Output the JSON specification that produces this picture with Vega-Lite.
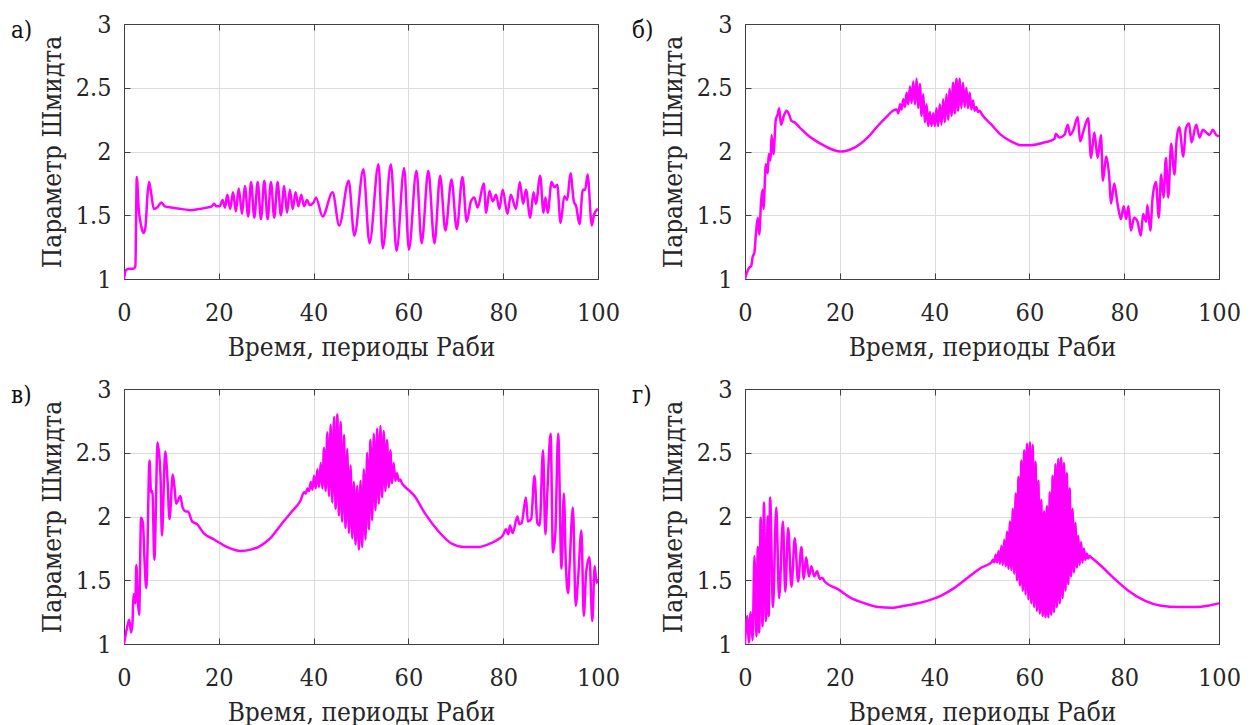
{
  "$schema": "https://vega.github.io/schema/vega-lite/v6.json",
  "background": "white",
  "padding": {"left": 10, "top": 11, "right": 5, "bottom": 5},
  "config": {
    "view": {"stroke": "#404040", "strokeWidth": 1},
    "font": "DejaVu Serif Condensed",
    "axis": {
      "labelFont": "DejaVu Serif Condensed",
      "titleFont": "DejaVu Serif Condensed",
      "labelFontSize": 25,
      "titleFontSize": 26,
      "titleFontWeight": "normal",
      "labelColor": "#262626",
      "titleColor": "#262626",
      "domainColor": "#404040",
      "tickColor": "#404040",
      "gridColor": "#dcdcdc",
      "gridWidth": 1,
      "tickSize": -6,
      "labelFlush": false,
      "labelOverlap": false
    },
    "title": {"font": "DejaVu Serif Condensed", "fontSize": 24, "fontWeight": "normal", "color": "#111111", "anchor": "start", "frame": "group", "offset": 0, "baseline": "alphabetic", "dx": -113, "dy": 35}
  },
  "datasets": {
    "a": [
      {"t":0,"v":1.00},{"t":0.4,"v":1.07},{"t":1.0,"v":1.08},{"t":2.0,"v":1.08},{"t":2.4,"v":1.10},{"t":2.7,"v":1.80},{"t":3.1,"v":1.55},{"t":3.6,"v":1.42},{"t":4.1,"v":1.36},{"t":4.5,"v":1.40},{"t":5.0,"v":1.68},{"t":5.3,"v":1.76},{"t":5.7,"v":1.68},{"t":6.3,"v":1.55},{"t":7.0,"v":1.56},{"t":7.9,"v":1.60},{"t":8.6,"v":1.57},{"t":10,"v":1.56},{"t":12,"v":1.55},{"t":14,"v":1.54},{"t":16,"v":1.55},{"t":17.5,"v":1.56},{"t":18.5,"v":1.57},{"t":19,"v":1.59},{"t":19.5,"v":1.57},{"t":20.2,"v":1.57},{"t":20.8,"v":1.62},{"t":21.3,"v":1.56},{"t":21.8,"v":1.66},{"t":22.4,"v":1.55},{"t":23.0,"v":1.68},{"t":23.6,"v":1.53},{"t":24.2,"v":1.71},{"t":24.9,"v":1.51},{"t":25.5,"v":1.73},{"t":26.2,"v":1.49},{"t":26.8,"v":1.76},{"t":27.5,"v":1.48},{"t":28.2,"v":1.76},{"t":28.9,"v":1.47},{"t":29.6,"v":1.77},{"t":30.3,"v":1.47},{"t":31.0,"v":1.76},{"t":31.7,"v":1.48},{"t":32.4,"v":1.76},{"t":33.1,"v":1.50},{"t":33.8,"v":1.73},{"t":34.4,"v":1.52},{"t":35.0,"v":1.70},{"t":35.6,"v":1.55},{"t":36.2,"v":1.68},{"t":36.8,"v":1.57},{"t":37.4,"v":1.66},{"t":38.0,"v":1.57},{"t":38.6,"v":1.62},{"t":39.2,"v":1.58},{"t":40.0,"v":1.60},{"t":40.5,"v":1.64},{"t":41.9,"v":1.49},{"t":44.0,"v":1.68},{"t":45.4,"v":1.42},{"t":47.4,"v":1.77},{"t":48.6,"v":1.34},{"t":50.5,"v":1.86},{"t":51.8,"v":1.28},{"t":53.7,"v":1.90},{"t":54.6,"v":1.24},{"t":56.3,"v":1.90},{"t":57.5,"v":1.22},{"t":59.1,"v":1.87},{"t":60.1,"v":1.23},{"t":61.7,"v":1.85},{"t":62.8,"v":1.28},{"t":64.2,"v":1.85},{"t":65.5,"v":1.28},{"t":66.7,"v":1.81},{"t":67.8,"v":1.38},{"t":69.1,"v":1.78},{"t":70.2,"v":1.39},{"t":71.4,"v":1.80},{"t":72.3,"v":1.45},{"t":73.2,"v":1.61},{"t":73.9,"v":1.64},{"t":74.6,"v":1.56},{"t":75.9,"v":1.75},{"t":76.4,"v":1.52},{"t":77.1,"v":1.69},{"t":77.8,"v":1.61},{"t":78.5,"v":1.66},{"t":79.2,"v":1.55},{"t":79.9,"v":1.70},{"t":80.9,"v":1.51},{"t":81.6,"v":1.66},{"t":82.7,"v":1.55},{"t":83.5,"v":1.76},{"t":84.2,"v":1.59},{"t":84.8,"v":1.70},{"t":85.7,"v":1.48},{"t":86.4,"v":1.68},{"t":86.9,"v":1.59},{"t":87.8,"v":1.81},{"t":88.5,"v":1.52},{"t":88.9,"v":1.64},{"t":89.4,"v":1.52},{"t":90.2,"v":1.76},{"t":90.8,"v":1.72},{"t":91.4,"v":1.74},{"t":92.1,"v":1.44},{"t":92.9,"v":1.65},{"t":93.5,"v":1.62},{"t":94.2,"v":1.83},{"t":94.9,"v":1.61},{"t":95.4,"v":1.57},{"t":96.1,"v":1.43},{"t":96.8,"v":1.70},{"t":97.3,"v":1.70},{"t":97.8,"v":1.82},{"t":98.7,"v":1.42},{"t":99.2,"v":1.51},{"t":100,"v":1.55}
    ],
    "b": [
      {"t":0,"v":1.00},{"t":0.5,"v":1.06},{"t":0.9,"v":1.09},{"t":1.3,"v":1.10},{"t":1.6,"v":1.17},{"t":2.0,"v":1.21},{"t":2.3,"v":1.35},{"t":2.7,"v":1.48},{"t":3.0,"v":1.35},{"t":3.4,"v":1.61},{"t":3.7,"v":1.70},{"t":3.9,"v":1.55},{"t":4.4,"v":1.90},{"t":4.8,"v":1.83},{"t":5.0,"v":1.98},{"t":5.4,"v":1.93},{"t":5.6,"v":2.13},{"t":6.0,"v":1.98},{"t":6.5,"v":2.25},{"t":6.9,"v":2.29},{"t":7.2,"v":2.34},{"t":7.6,"v":2.21},{"t":8.2,"v":2.28},{"t":8.8,"v":2.32},{"t":9.4,"v":2.28},{"t":9.8,"v":2.24},{"t":10.4,"v":2.23},{"t":11.5,"v":2.19},{"t":13.2,"v":2.13},{"t":16.0,"v":2.06},{"t":18.8,"v":2.01},{"t":20.3,"v":2.00},{"t":23.1,"v":2.03},{"t":25.9,"v":2.11},{"t":28.0,"v":2.20},{"t":30.1,"v":2.28},{"t":31.2,"v":2.32},
      {"t":32.0,"v":2.33},{"t":32.35,"v":2.30},{"t":32.7,"v":2.37},{"t":33.05,"v":2.33},{"t":33.4,"v":2.41},{"t":33.75,"v":2.35},{"t":34.1,"v":2.46},{"t":34.45,"v":2.37},{"t":34.8,"v":2.51},{"t":35.15,"v":2.38},{"t":35.5,"v":2.55},{"t":35.85,"v":2.37},{"t":36.2,"v":2.57},{"t":36.55,"v":2.34},{"t":36.9,"v":2.53},{"t":37.25,"v":2.28},{"t":37.6,"v":2.45},{"t":37.95,"v":2.23},{"t":38.3,"v":2.37},{"t":38.65,"v":2.20},{"t":39.0,"v":2.31},{"t":39.35,"v":2.20},{"t":39.7,"v":2.30},{"t":40.05,"v":2.20},{"t":40.4,"v":2.34},{"t":40.75,"v":2.20},{"t":41.1,"v":2.37},{"t":41.45,"v":2.21},{"t":41.8,"v":2.41},{"t":42.15,"v":2.23},{"t":42.5,"v":2.45},{"t":42.85,"v":2.25},{"t":43.2,"v":2.49},{"t":43.55,"v":2.28},{"t":43.9,"v":2.54},{"t":44.25,"v":2.30},{"t":44.6,"v":2.57},{"t":44.95,"v":2.32},{"t":45.3,"v":2.57},{"t":45.65,"v":2.34},{"t":46.0,"v":2.54},{"t":46.35,"v":2.35},{"t":46.7,"v":2.50},{"t":47.05,"v":2.34},{"t":47.4,"v":2.46},{"t":47.75,"v":2.33},{"t":48.1,"v":2.40},{"t":48.45,"v":2.32},{"t":48.8,"v":2.35},{"t":49.15,"v":2.31},{"t":49.5,"v":2.32},{"t":50.0,"v":2.29},
      {"t":52.0,"v":2.21},{"t":54.0,"v":2.13},{"t":56.1,"v":2.08},{"t":58.2,"v":2.05},{"t":60.3,"v":2.05},{"t":63.1,"v":2.07},{"t":65.3,"v":2.10},{"t":65.6,"v":2.14},{"t":66.3,"v":2.11},{"t":67.4,"v":2.13},{"t":68.1,"v":2.21},{"t":68.6,"v":2.13},{"t":69.3,"v":2.17},{"t":70.2,"v":2.27},{"t":70.7,"v":2.08},{"t":71.4,"v":2.16},{"t":72.4,"v":2.26},{"t":73.0,"v":1.95},{"t":73.7,"v":2.15},{"t":74.4,"v":1.95},{"t":75.1,"v":2.13},{"t":75.5,"v":1.77},{"t":76.2,"v":1.96},{"t":76.9,"v":1.77},{"t":77.2,"v":1.59},{"t":77.9,"v":1.75},{"t":78.6,"v":1.59},{"t":79.3,"v":1.47},{"t":79.9,"v":1.57},{"t":80.4,"v":1.47},{"t":80.9,"v":1.57},{"t":81.4,"v":1.38},{"t":82.1,"v":1.48},{"t":82.8,"v":1.45},{"t":83.5,"v":1.34},{"t":84.0,"v":1.51},{"t":84.6,"v":1.45},{"t":84.9,"v":1.58},{"t":85.5,"v":1.38},{"t":86.0,"v":1.64},{"t":86.7,"v":1.76},{"t":87.3,"v":1.48},{"t":87.8,"v":1.82},{"t":88.3,"v":1.64},{"t":88.8,"v":1.95},{"t":89.3,"v":1.64},{"t":89.9,"v":2.06},{"t":90.6,"v":1.82},{"t":91.1,"v":2.11},{"t":91.6,"v":2.19},{"t":92.5,"v":1.96},{"t":93.0,"v":2.18},{"t":93.7,"v":2.22},{"t":94.2,"v":2.07},{"t":95.2,"v":2.21},{"t":95.9,"v":2.11},{"t":96.6,"v":2.17},{"t":97.3,"v":2.15},{"t":98.0,"v":2.13},{"t":98.7,"v":2.17},{"t":99.4,"v":2.13},{"t":100,"v":2.12}
    ],
    "c": [
      {"t":0,"v":1.00},{"t":0.6,"v":1.12},{"t":1.1,"v":1.19},{"t":1.5,"v":1.09},{"t":1.8,"v":1.17},{"t":2.0,"v":1.39},{"t":2.4,"v":1.32},{"t":2.6,"v":1.62},{"t":2.9,"v":1.35},{"t":3.2,"v":1.23},{"t":3.6,"v":1.99},{"t":4.0,"v":1.95},{"t":4.3,"v":1.68},{"t":4.7,"v":1.44},{"t":5.4,"v":2.44},{"t":5.7,"v":2.19},{"t":6.0,"v":2.20},{"t":6.4,"v":1.66},{"t":7.1,"v":2.58},{"t":7.7,"v":2.32},{"t":8.0,"v":1.85},{"t":8.7,"v":2.51},{"t":9.2,"v":2.27},{"t":9.6,"v":1.98},{"t":10.3,"v":2.33},{"t":10.7,"v":2.21},{"t":11.0,"v":2.10},{"t":11.9,"v":2.16},{"t":12.3,"v":2.08},{"t":13.0,"v":2.04},{"t":13.5,"v":2.04},{"t":14.4,"v":1.96},{"t":15.4,"v":1.94},{"t":16.8,"v":1.87},{"t":19.0,"v":1.82},{"t":21.8,"v":1.76},{"t":24.6,"v":1.73},{"t":26.7,"v":1.74},{"t":28.8,"v":1.77},{"t":30.9,"v":1.83},{"t":33.0,"v":1.93},{"t":35.2,"v":2.03},{"t":37.3,"v":2.13},
      {"t":38.0,"v":2.19},{"t":38.35,"v":2.18},{"t":38.7,"v":2.22},{"t":39.05,"v":2.20},{"t":39.4,"v":2.27},{"t":39.75,"v":2.21},{"t":40.1,"v":2.32},{"t":40.45,"v":2.22},{"t":40.8,"v":2.37},{"t":41.15,"v":2.23},{"t":41.5,"v":2.42},{"t":41.85,"v":2.22},{"t":42.2,"v":2.54},{"t":42.55,"v":2.20},{"t":42.9,"v":2.66},{"t":43.25,"v":2.16},{"t":43.6,"v":2.72},{"t":43.95,"v":2.11},{"t":44.3,"v":2.78},{"t":44.65,"v":2.06},{"t":45.0,"v":2.80},{"t":45.35,"v":2.01},{"t":45.7,"v":2.74},{"t":46.05,"v":1.96},{"t":46.4,"v":2.64},{"t":46.75,"v":1.91},{"t":47.1,"v":2.53},{"t":47.45,"v":1.87},{"t":47.8,"v":2.40},{"t":48.15,"v":1.83},{"t":48.5,"v":2.27},{"t":48.85,"v":1.78},{"t":49.2,"v":2.24},{"t":49.55,"v":1.74},{"t":49.9,"v":2.28},{"t":50.25,"v":1.76},{"t":50.6,"v":2.37},{"t":50.95,"v":1.82},{"t":51.3,"v":2.50},{"t":51.65,"v":1.90},{"t":52.0,"v":2.60},{"t":52.35,"v":1.97},{"t":52.7,"v":2.65},{"t":53.05,"v":2.05},{"t":53.4,"v":2.69},{"t":53.75,"v":2.10},{"t":54.1,"v":2.71},{"t":54.45,"v":2.15},{"t":54.8,"v":2.67},{"t":55.15,"v":2.20},{"t":55.5,"v":2.60},{"t":55.85,"v":2.23},{"t":56.2,"v":2.52},{"t":56.55,"v":2.26},{"t":56.9,"v":2.42},{"t":57.25,"v":2.28},{"t":57.6,"v":2.34},{"t":57.95,"v":2.28},{"t":58.3,"v":2.29},{"t":58.65,"v":2.26},{"t":59.1,"v":2.24},
      {"t":61.3,"v":2.16},{"t":63.4,"v":2.03},{"t":66.2,"v":1.89},{"t":69.0,"v":1.79},{"t":71.8,"v":1.76},{"t":74.6,"v":1.76},{"t":76.7,"v":1.78},{"t":78.9,"v":1.82},{"t":79.9,"v":1.85},{"t":80.6,"v":1.90},{"t":81.1,"v":1.86},{"t":81.4,"v":1.93},{"t":82.0,"v":1.87},{"t":83.0,"v":2.00},{"t":83.4,"v":1.94},{"t":83.9,"v":1.95},{"t":84.8,"v":2.15},{"t":85.2,"v":1.96},{"t":85.9,"v":1.98},{"t":86.6,"v":2.32},{"t":87.2,"v":1.95},{"t":87.7,"v":1.93},{"t":88.4,"v":2.52},{"t":88.9,"v":1.86},{"t":89.3,"v":2.18},{"t":90.0,"v":2.65},{"t":90.5,"v":1.72},{"t":91.0,"v":1.87},{"t":91.6,"v":2.65},{"t":92.3,"v":1.59},{"t":92.8,"v":2.18},{"t":93.2,"v":1.64},{"t":93.7,"v":1.40},{"t":94.0,"v":1.61},{"t":94.7,"v":2.07},{"t":95.3,"v":1.30},{"t":95.8,"v":1.51},{"t":96.5,"v":1.89},{"t":97.0,"v":1.22},{"t":97.5,"v":1.56},{"t":98.2,"v":1.68},{"t":98.8,"v":1.18},{"t":99.3,"v":1.61},{"t":99.7,"v":1.48},{"t":100,"v":1.51}
    ],
    "d": [
      {"t":0,"v":1.00},{"t":0.5,"v":1.22},{"t":0.8,"v":1.01},{"t":1.2,"v":1.25},{"t":1.6,"v":1.03},{"t":2.0,"v":1.69},{"t":2.4,"v":1.06},{"t":2.7,"v":1.76},{"t":3.0,"v":1.09},{"t":3.3,"v":1.99},{"t":3.7,"v":1.14},{"t":4.0,"v":2.11},{"t":4.4,"v":1.18},{"t":4.8,"v":2.00},{"t":5.0,"v":1.22},{"t":5.3,"v":2.15},{"t":5.9,"v":1.29},{"t":6.6,"v":2.07},{"t":7.2,"v":1.36},{"t":8.0,"v":1.96},{"t":8.5,"v":1.41},{"t":9.1,"v":1.91},{"t":9.8,"v":1.45},{"t":10.5,"v":1.83},{"t":11.2,"v":1.49},{"t":11.9,"v":1.76},{"t":12.4,"v":1.51},{"t":12.9,"v":1.68},{"t":13.5,"v":1.53},{"t":14.0,"v":1.61},{"t":14.6,"v":1.53},{"t":15.2,"v":1.57},{"t":15.8,"v":1.51},{"t":16.3,"v":1.52},{"t":16.8,"v":1.49},
      {"t":19.6,"v":1.43},{"t":22.4,"v":1.36},{"t":25.2,"v":1.32},{"t":28.1,"v":1.29},{"t":30.9,"v":1.285},{"t":33.7,"v":1.30},{"t":36.5,"v":1.32},{"t":38.6,"v":1.34},{"t":41.4,"v":1.38},{"t":44.2,"v":1.44},{"t":47.0,"v":1.52},{"t":49.9,"v":1.60},{"t":52.0,"v":1.64},
      {"t":52.3,"v":1.66},{"t":52.6,"v":1.64},{"t":52.9,"v":1.70},{"t":53.2,"v":1.64},{"t":53.5,"v":1.73},{"t":53.8,"v":1.63},{"t":54.1,"v":1.77},{"t":54.4,"v":1.62},{"t":54.7,"v":1.82},{"t":55.0,"v":1.61},{"t":55.3,"v":1.88},{"t":55.6,"v":1.59},{"t":55.9,"v":1.96},{"t":56.2,"v":1.58},{"t":56.5,"v":2.06},{"t":56.8,"v":1.55},{"t":57.1,"v":2.18},{"t":57.4,"v":1.50},{"t":57.7,"v":2.31},{"t":58.0,"v":1.46},{"t":58.3,"v":2.44},{"t":58.6,"v":1.42},{"t":58.9,"v":2.52},{"t":59.2,"v":1.39},{"t":59.5,"v":2.57},{"t":59.8,"v":1.35},{"t":60.1,"v":2.58},{"t":60.4,"v":1.32},{"t":60.7,"v":2.56},{"t":61.0,"v":1.29},{"t":61.3,"v":2.43},{"t":61.6,"v":1.26},{"t":61.9,"v":2.28},{"t":62.2,"v":1.24},{"t":62.5,"v":2.13},{"t":62.8,"v":1.22},{"t":63.1,"v":2.04},{"t":63.4,"v":1.21},{"t":63.7,"v":2.08},{"t":64.0,"v":1.21},{"t":64.3,"v":2.19},{"t":64.6,"v":1.23},{"t":64.9,"v":2.32},{"t":65.2,"v":1.25},{"t":65.5,"v":2.41},{"t":65.8,"v":1.29},{"t":66.1,"v":2.45},{"t":66.4,"v":1.32},{"t":66.7,"v":2.46},{"t":67.0,"v":1.36},{"t":67.3,"v":2.42},{"t":67.6,"v":1.42},{"t":67.9,"v":2.34},{"t":68.2,"v":1.47},{"t":68.5,"v":2.22},{"t":68.8,"v":1.53},{"t":69.1,"v":2.06},{"t":69.4,"v":1.56},{"t":69.7,"v":1.95},{"t":70.0,"v":1.60},{"t":70.3,"v":1.85},{"t":70.6,"v":1.62},{"t":70.9,"v":1.80},{"t":71.2,"v":1.64},{"t":71.5,"v":1.75},{"t":71.8,"v":1.66},{"t":72.1,"v":1.71},{"t":72.4,"v":1.67},{"t":72.7,"v":1.69},{"t":73.0,"v":1.68},
      {"t":75.2,"v":1.61},{"t":78.0,"v":1.51},{"t":80.8,"v":1.42},{"t":84.3,"v":1.34},{"t":87.8,"v":1.30},{"t":91.4,"v":1.29},{"t":94.9,"v":1.29},{"t":97.7,"v":1.30},{"t":100,"v":1.32}
    ]
  },
  "concat": [
    {
      "data": {"name": "a"},
      "title": {"text": "а)"},
      "width": 474, "height": 255,
      "layer": [
        {"mark": {"type": "line", "color": "#ff00ff", "strokeWidth": 2.5, "clip": true, "interpolate": "monotone"},
         "encoding": {
           "x": {"field": "t", "type": "quantitative", "scale": {"domain": [0, 100], "nice": false}, "axis": {"orient": "bottom", "values": [0,20,40,60,80,100], "title": "Время, периоды Раби", "labelPadding": 27, "titlePadding": 9}},
           "y": {"field": "v", "type": "quantitative", "scale": {"domain": [1, 3], "nice": false, "zero": false}, "axis": {"orient": "left", "values": [1,1.5,2,2.5,3], "format": "~g", "title": "Параметр Шмидта", "labelPadding": 19, "titlePadding": 10}}
         }},
        {"mark": {"type": "line", "opacity": 0},
         "encoding": {
           "x": {"field": "t", "type": "quantitative", "axis": {"orient": "top", "values": [0,20,40,60,80,100], "labels": false, "grid": false, "title": null}},
           "y": {"field": "v", "type": "quantitative", "axis": {"orient": "right", "values": [1,1.5,2,2.5,3], "labels": false, "grid": false, "title": null}}
         }}
      ],
      "resolve": {"axis": {"x": "independent", "y": "independent"}}
    },
    {
      "data": {"name": "b"},
      "title": {"text": "б)"},
      "width": 474, "height": 255,
      "layer": [
        {"mark": {"type": "line", "color": "#ff00ff", "strokeWidth": 2.5, "clip": true, "interpolate": "monotone"},
         "encoding": {
           "x": {"field": "t", "type": "quantitative", "scale": {"domain": [0, 100], "nice": false}, "axis": {"orient": "bottom", "values": [0,20,40,60,80,100], "title": "Время, периоды Раби", "labelPadding": 27, "titlePadding": 9}},
           "y": {"field": "v", "type": "quantitative", "scale": {"domain": [1, 3], "nice": false, "zero": false}, "axis": {"orient": "left", "values": [1,1.5,2,2.5,3], "format": "~g", "title": "Параметр Шмидта", "labelPadding": 19, "titlePadding": 10}}
         }},
        {"mark": {"type": "line", "opacity": 0},
         "encoding": {
           "x": {"field": "t", "type": "quantitative", "axis": {"orient": "top", "values": [0,20,40,60,80,100], "labels": false, "grid": false, "title": null}},
           "y": {"field": "v", "type": "quantitative", "axis": {"orient": "right", "values": [1,1.5,2,2.5,3], "labels": false, "grid": false, "title": null}}
         }}
      ],
      "resolve": {"axis": {"x": "independent", "y": "independent"}}
    },
    {
      "data": {"name": "c"},
      "title": {"text": "в)"},
      "width": 474, "height": 255,
      "layer": [
        {"mark": {"type": "line", "color": "#ff00ff", "strokeWidth": 2.5, "clip": true, "interpolate": "monotone"},
         "encoding": {
           "x": {"field": "t", "type": "quantitative", "scale": {"domain": [0, 100], "nice": false}, "axis": {"orient": "bottom", "values": [0,20,40,60,80,100], "title": "Время, периоды Раби", "labelPadding": 27, "titlePadding": 9}},
           "y": {"field": "v", "type": "quantitative", "scale": {"domain": [1, 3], "nice": false, "zero": false}, "axis": {"orient": "left", "values": [1,1.5,2,2.5,3], "format": "~g", "title": "Параметр Шмидта", "labelPadding": 19, "titlePadding": 10}}
         }},
        {"mark": {"type": "line", "opacity": 0},
         "encoding": {
           "x": {"field": "t", "type": "quantitative", "axis": {"orient": "top", "values": [0,20,40,60,80,100], "labels": false, "grid": false, "title": null}},
           "y": {"field": "v", "type": "quantitative", "axis": {"orient": "right", "values": [1,1.5,2,2.5,3], "labels": false, "grid": false, "title": null}}
         }}
      ],
      "resolve": {"axis": {"x": "independent", "y": "independent"}}
    },
    {
      "data": {"name": "d"},
      "title": {"text": "г)"},
      "width": 474, "height": 255,
      "layer": [
        {"mark": {"type": "line", "color": "#ff00ff", "strokeWidth": 2.5, "clip": true, "interpolate": "monotone"},
         "encoding": {
           "x": {"field": "t", "type": "quantitative", "scale": {"domain": [0, 100], "nice": false}, "axis": {"orient": "bottom", "values": [0,20,40,60,80,100], "title": "Время, периоды Раби", "labelPadding": 27, "titlePadding": 9}},
           "y": {"field": "v", "type": "quantitative", "scale": {"domain": [1, 3], "nice": false, "zero": false}, "axis": {"orient": "left", "values": [1,1.5,2,2.5,3], "format": "~g", "title": "Параметр Шмидта", "labelPadding": 19, "titlePadding": 10}}
         }},
        {"mark": {"type": "line", "opacity": 0},
         "encoding": {
           "x": {"field": "t", "type": "quantitative", "axis": {"orient": "top", "values": [0,20,40,60,80,100], "labels": false, "grid": false, "title": null}},
           "y": {"field": "v", "type": "quantitative", "axis": {"orient": "right", "values": [1,1.5,2,2.5,3], "labels": false, "grid": false, "title": null}}
         }}
      ],
      "resolve": {"axis": {"x": "independent", "y": "independent"}}
    }
  ],
  "columns": 2,
  "spacing": {"row": 110, "column": 147},
  "bounds": "flush"
}
